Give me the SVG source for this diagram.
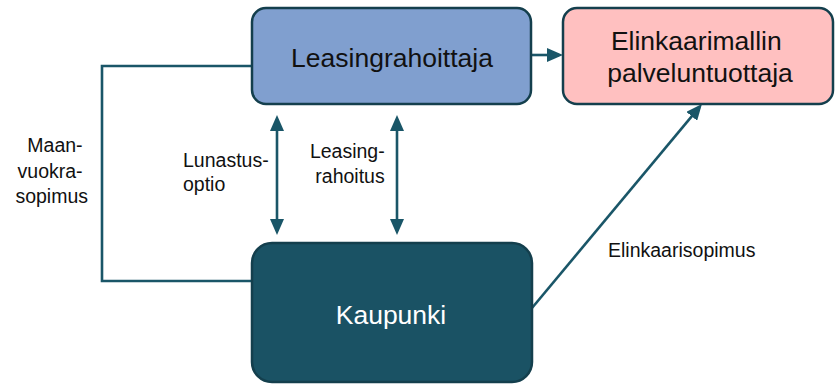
<svg xmlns="http://www.w3.org/2000/svg" width="836" height="384" viewBox="0 0 836 384">
  <style>
    .box { stroke: #143f4d; stroke-width: 2.5; }
    .title { font-family: "Liberation Sans", Arial, sans-serif; font-size: 26.5px; fill: #111; text-anchor: middle; }
    .label { font-family: "Liberation Sans", Arial, sans-serif; font-size: 19.5px; fill: #111; }
    .wire { fill: none; stroke: #1a5668; stroke-width: 2.6; }
  </style>
  <defs>
    <marker id="head" viewBox="0 0 16 14" markerWidth="16" markerHeight="14" refX="12" refY="7" orient="auto-start-reverse" markerUnits="userSpaceOnUse">
      <path d="M0,0 L16,7 L0,14 z" fill="#1a5668"/>
    </marker>
  </defs>

  <rect width="836" height="384" fill="#ffffff"/>

  <!-- connectors -->
  <g id="connectors">
    <polyline class="wire" points="252,66 102,66 102,281 252,281"/>
    <line class="wire" x1="532" y1="55" x2="559" y2="55" marker-end="url(#head)"/>
    <line class="wire" x1="277" y1="119" x2="277" y2="231" marker-start="url(#head)" marker-end="url(#head)"/>
    <line class="wire" x1="397" y1="119" x2="397" y2="231" marker-start="url(#head)" marker-end="url(#head)"/>
    <line class="wire" x1="532" y1="308" x2="699.4" y2="107.1" marker-end="url(#head)"/>
    <text class="label" text-anchor="end">
      <tspan x="88" y="152">Maan-</tspan>
      <tspan x="88" y="177.5">vuokra-</tspan>
      <tspan x="88" y="203">sopimus</tspan>
    </text>
    <text class="label">
      <tspan x="183" y="167">Lunastus-</tspan>
      <tspan x="183" y="191">optio</tspan>
    </text>
    <text class="label" text-anchor="middle">
      <tspan x="350" y="158">Leasing-</tspan>
      <tspan x="350" y="183">rahoitus</tspan>
    </text>
    <text class="label" x="608" y="257">Elinkaarisopimus</text>
  </g>

  <!-- nodes -->
  <g id="leasingrahoittaja">
    <rect class="box" x="252" y="8" width="279" height="96" rx="14" fill="#809fcf"/>
    <text class="title" x="392" y="67">Leasingrahoittaja</text>
  </g>
  <g id="palveluntuottaja">
    <rect class="box" x="563" y="8" width="270" height="96" rx="14" fill="#ffc0c0"/>
    <text class="title">
      <tspan x="700" y="50">Elinkaarimallin</tspan>
      <tspan x="700" y="82">palveluntuottaja</tspan>
    </text>
  </g>
  <g id="kaupunki">
    <rect class="box" x="252" y="243" width="280" height="139" rx="20" fill="#1a5264"/>
    <text class="title" x="391" y="324" style="fill:#ffffff">Kaupunki</text>
  </g>
</svg>
